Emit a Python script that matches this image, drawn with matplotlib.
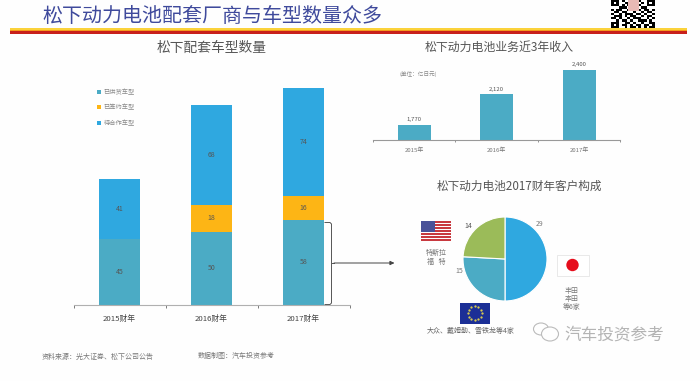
import matplotlib
matplotlib.use('Agg')
import matplotlib.pyplot as plt
import numpy as np
from matplotlib.patches import Rectangle, Circle, Ellipse

plt.rcParams['font.family'] = ['Noto Sans CJK SC', 'DejaVu Sans']

# datos
anios_fy = ['2015财年', '2016财年', '2017财年']
ya_suministro = [45, 50, 58]
ya_contrato = [0, 18, 16]
por_cooperar = [41, 68, 74]
etiquetas_serie = ['已供货车型', '已签约车型', '待合作车型']

anios = ['2015年', '2016年', '2017年']
ingresos = [1770, 2120, 2400]

clientes = [29, 15, 14]

qr = ['1110100110100111',
      '1010011011010101',
      '1110101001100111',
      '0001110100011000',
      '1011001011101101',
      '0110110010010110',
      '1001011101101001',
      '0111010110010110',
      '1101001011100101',
      '0010110100111010',
      '1110011010010011',
      '1010110101101101',
      '1110010110101011']

AZUL = '#2fa8e0'
TEAL = '#4babc5'
AMBAR = '#fdb515'
VERDE = '#9bbb59'
W, H = 700.0, 381.0


def caja(x0, y0, x1, y1):
    # pixeles de la imagen -> fraccion de figura
    return [x0/W, 1-y1/H, (x1-x0)/W, (y1-y0)/H]


fig = plt.figure(figsize=(7.0, 3.81), dpi=100, facecolor='#fefefe')

# capa de fondo en pixeles para textos y adornos
bg = fig.add_axes([0, 0, 1, 1])
bg.set_xlim(0, W)
bg.set_ylim(H, 0)
bg.axis('off')

bg.text(42, 16.5, '松下动力电池配套厂商与车型数量众多', fontsize=14.4, color='#3f4a9c',
        va='center', ha='left')
# banda de colores
for y0, y1, c in [(28, 29.5, '#fbd23a'), (29.5, 31, '#f59a1c'), (31, 33.5, '#c8201c')]:
    bg.add_patch(Rectangle((10, y0), 677, y1-y0, fc=c, ec='none'))
bg.imshow(np.array([[1-int(c) for c in fila] for fila in qr]), cmap='gray', vmin=0, vmax=1,
          extent=(611, 655, 28, 0), interpolation='nearest', aspect='auto', zorder=2)
bg.add_patch(Rectangle((628, 0), 11, 11, fc='#e8b9b5', ec='none', zorder=3))
bg.set_xlim(0, W)
bg.set_ylim(H, 0)

bg.text(212, 48, '松下配套车型数量', fontsize=9.9, color='#555555', ha='center', va='center')
bg.text(499.5, 47, '松下动力电池业务近3年收入', fontsize=8.6, color='#555555', ha='center', va='center')
bg.text(519.5, 186, '松下动力电池2017财年客户构成', fontsize=8.4, color='#555555', ha='center', va='center')
bg.text(418, 75, '(单位：亿日元)', fontsize=4.1, color='#888888', ha='center', va='center')

bg.text(42, 356.5, '资料来源：光大证券、松下公司公告', fontsize=5, color='#777777', va='center')
bg.text(198, 356, '数据制图：汽车投资参考', fontsize=5, color='#777777', va='center')

# llave y flecha
bg.plot([325, 330, 331.5, 331.5, 330, 325], [222.5, 222.5, 224, 303, 304.5, 304.5], color='#555555', lw=0.7)
bg.plot([331.5, 334], [263, 263], color='#555555', lw=0.7)
bg.annotate('', xy=(394.5, 263), xytext=(334, 263),
            arrowprops=dict(arrowstyle='-|>,head_length=0.25,head_width=0.12', color='#444444', lw=0.7,
                            shrinkA=0, shrinkB=0))

# bandera EEUU
for i in range(7):
    bg.add_patch(Rectangle((421, 221+i*3), 30, 1.5, fc='#c8393f', ec='none'))
bg.add_patch(Rectangle((421, 221), 13.5, 11, fc='#4a5298', ec='none'))
bg.text(436, 252.5, '特斯拉', fontsize=5, color='#777777', ha='center', va='center')
bg.text(436, 261.5, '福   特', fontsize=5, color='#777777', ha='center', va='center')

# bandera Japon
bg.add_patch(Rectangle((557, 254.5), 31.5, 21, fc='white', ec='#e6e6e6', lw=0.6))
bg.add_patch(Circle((572.5, 265), 6.2, fc='#e60d1c', ec='none'))
bg.text(572, 290.5, '丰田', fontsize=5, color='#777777', ha='center', va='center')
bg.text(572, 299, '本田', fontsize=5, color='#777777', ha='center', va='center')
bg.text(572, 307, '等6家', fontsize=5, color='#777777', ha='center', va='center')

# bandera UE
bg.add_patch(Rectangle((459.5, 302.5), 30.5, 21, fc='#1b2f96', ec='none'))
for a in np.arange(0, 360, 30):
    bg.plot(474.8+7*np.cos(np.radians(a)), 313+7*np.sin(np.radians(a)), '.', ms=1.2, color='#e8d84a')
bg.text(471, 330.5, '大众、戴姆勒、雪铁龙等4家', fontsize=5, color='#666666', ha='center', va='center')

# marca de agua
bg.add_patch(Ellipse((541, 329), 15, 12, fc='#fefefe', ec='#bbbbbb', lw=0.8))
bg.add_patch(Ellipse((550, 334), 17, 14, fc='#fefefe', ec='#bbbbbb', lw=0.8))
bg.text(564, 335, '汽车投资参考', fontsize=12, color='#b4b4b4', va='center')

# barras apiladas
ax1 = fig.add_axes(caja(73.5, 60, 349.5, 305))
ax1.patch.set_alpha(0)
x = np.arange(3)
b1 = ax1.bar(x, ya_suministro, 0.44, color=TEAL, label=etiquetas_serie[0])
b2 = ax1.bar(x, ya_contrato, 0.44, bottom=ya_suministro, color=AMBAR, label=etiquetas_serie[1])
base = np.array(ya_suministro)+np.array(ya_contrato)
b3 = ax1.bar(x, por_cooperar, 0.44, bottom=base, color=AZUL, label=etiquetas_serie[2])
for barras, vals in [(b1, ya_suministro), (b2, ya_contrato), (b3, por_cooperar)]:
    ax1.bar_label(barras, labels=[str(v) if v else '' for v in vals], label_type='center',
                  fontsize=5, color='#555555')
ax1.set_xlim(-0.5, 2.5)
ax1.set_ylim(0, 167)
ax1.set_xticks([-0.5, 0.5, 1.5, 2.5], labels=[])
ax1.set_xticks(x, labels=anios_fy, minor=True)
ax1.tick_params(axis='x', which='major', length=2, width=0.6, color='#666666')
ax1.tick_params(axis='x', which='minor', length=0, labelsize=5.6, labelcolor='#444444', pad=7)
ax1.set_yticks([])
for s in ['top', 'left', 'right']:
    ax1.spines[s].set_visible(False)
ax1.spines['bottom'].set_color('#b0b0b0')
leg = ax1.legend(loc='upper left', bbox_to_anchor=(0.085, 0.886), frameon=False, fontsize=4.5,
                 handlelength=0.7, handleheight=0.7, handletextpad=0.4, labelspacing=1.2,
                 borderpad=0, borderaxespad=0, labelcolor='#888888')

# ingresos
ax2 = fig.add_axes(caja(373, 60, 620.5, 139.5))
ax2.patch.set_alpha(0)
b4 = ax2.bar(range(3), ingresos, 0.4, color=TEAL)
ax2.bar_label(b4, labels=[f'{v:,}' for v in ingresos], fontsize=4.3, color='#555555', padding=2)
ax2.set_xlim(-0.5, 2.5)
ax2.set_ylim(1604, 1604+79.5*11.45)
ax2.set_xticks([-0.5, 0.5, 1.5, 2.5], labels=[])
ax2.set_xticks(range(3), labels=anios, minor=True)
ax2.tick_params(axis='x', which='major', length=1.5, width=0.5, color='#666666')
ax2.tick_params(axis='x', which='minor', length=0, labelsize=4.3, labelcolor='#777777', pad=5.5)
ax2.set_yticks([])
for s in ['top', 'left', 'right']:
    ax2.spines[s].set_visible(False)
ax2.spines['bottom'].set_color('#999999')

# pastel
ax3 = fig.add_axes(caja(463, 217, 547, 301))
ax3.pie(clientes, colors=[AZUL, TEAL, VERDE], startangle=90, counterclock=False, radius=1,
        wedgeprops=dict(ec='white', lw=0.8))
ax3.set_xlim(-1, 1)
ax3.set_ylim(-1, 1)
bg.text(540, 224, str(clientes[0]), fontsize=5, color='#777777', ha='center', va='center')
bg.text(459, 271, str(clientes[1]), fontsize=5, color='#777777', ha='center', va='center')
bg.text(468, 226.5, str(clientes[2]), fontsize=5, color='#555555', ha='center', va='center')

fig.savefig('out.png', dpi=100, facecolor=fig.get_facecolor())
